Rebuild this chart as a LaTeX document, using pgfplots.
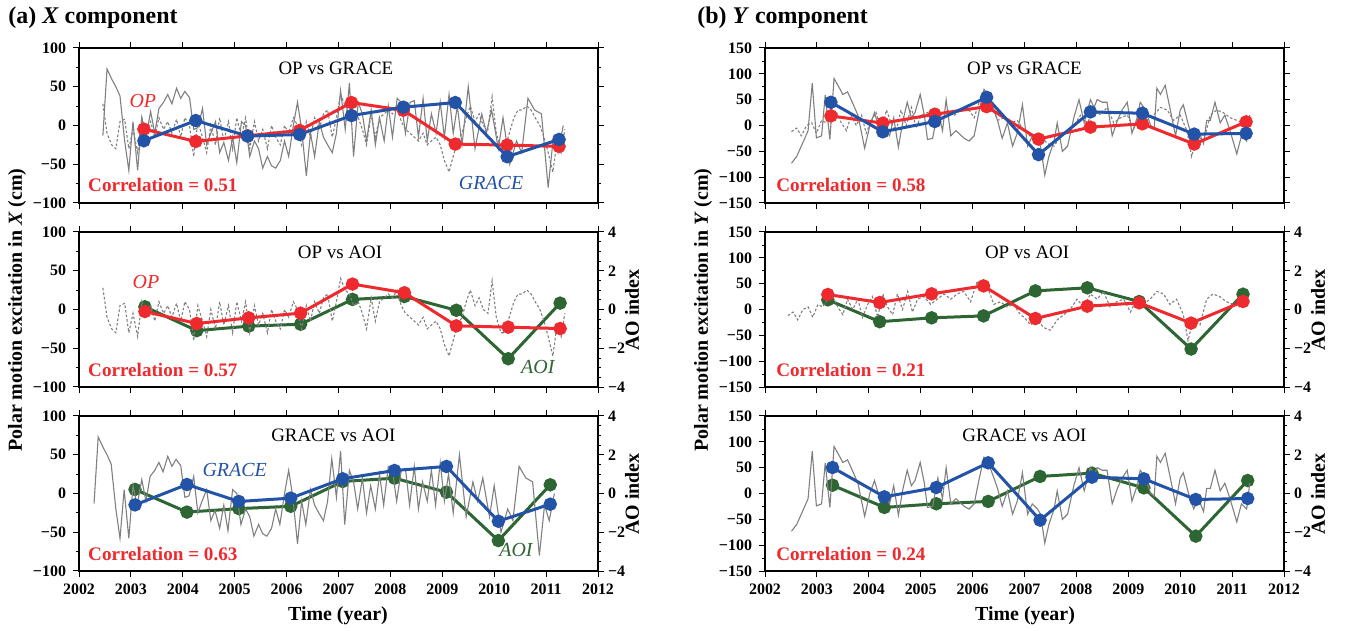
\documentclass[border=0pt]{standalone}
\usepackage{fontspec}
\setmainfont{Liberation Serif}
\usepackage{pgfplots}
\usepackage{pgfplotstable}
\pgfplotsset{compat=1.18}
\definecolor{cred}{HTML}{EE2A2E}
\definecolor{cblue}{HTML}{2353A6}
\definecolor{cgreen}{HTML}{2D6633}
\definecolor{cgray}{HTML}{808080}

% ---------- annual series ----------
\pgfplotstableread{
t op grace
2003.25 -4.7 -19.7
2004.25 -20.6 6.4
2005.25 -13.3 -13.7
2006.25 -6.4 -11.6
2007.25 29.6 12.8
2008.25 19.7 23.6
2009.25 -24.0 29.6
2010.25 -25.3 -40.3
2011.25 -27.0 -18.0
}\XtopA
\pgfplotstableread{
t op ao
2003.27 -2.6 0.14
2004.27 -18.1 -1.09
2005.27 -10.8 -0.86
2006.27 -4.7 -0.76
2007.27 32.8 0.52
2008.27 21.6 0.67
2009.27 -21.1 -0.04
2010.27 -22.8 -2.54
2011.27 -24.6 0.33
}\XmidA
\pgfplotstableread{
t grace ao
2003.08 -14.7 0.21
2004.08 11.6 -0.96
2005.08 -10.3 -0.78
2006.08 -6.0 -0.66
2007.08 19.0 0.62
2008.08 29.7 0.79
2009.08 34.9 0.07
2010.08 -35.8 -2.43
2011.08 -13.8 0.45
}\XbotA
\pgfplotstableread{
t op grace
2003.27 18.6 44.9
2004.27 4.5 -12.2
2005.27 21.8 7.7
2006.27 36.5 54.5
2007.27 -26.3 -56.4
2008.27 -3.2 26.3
2009.27 3.2 23.7
2010.27 -35.9 -16.7
2011.27 7.1 -15.4
}\YtopA
\pgfplotstableread{
t op ao
2003.21 29.0 0.50
2004.21 13.5 -0.63
2005.21 30.3 -0.43
2006.21 45.7 -0.33
2007.21 -17.4 0.96
2008.21 6.4 1.12
2009.21 12.9 0.41
2010.21 -26.4 -2.04
2011.21 15.5 0.79
}\YmidA
\pgfplotstableread{
t grace ao
2003.30 50.3 0.43
2004.30 -6.5 -0.72
2005.30 11.6 -0.53
2006.30 59.4 -0.41
2007.30 -51.6 0.88
2008.30 31.6 1.05
2009.30 28.4 0.29
2010.30 -11.6 -2.20
2011.30 -9.7 0.67
}\YbotA

% ---------- monthly series ----------
\pgfplotstableread{
t v
2002.46 -13
2002.54 73
2002.63 60
2002.71 50
2002.79 38
2002.88 -20
2002.96 -58
2003.04 5
2003.13 -58
2003.21 10
2003.29 -15
2003.38 18
2003.46 -10
2003.54 22
2003.63 30
2003.71 40
2003.79 28
2003.88 48
2003.96 35
2004.04 44
2004.13 36
2004.21 -5
2004.29 -3
2004.38 22
2004.46 -25
2004.54 -10
2004.63 5
2004.71 -35
2004.79 -22
2004.88 -45
2004.96 -15
2005.04 -48
2005.13 5
2005.21 0
2005.29 -40
2005.38 -20
2005.46 -30
2005.54 -55
2005.63 -40
2005.71 -52
2005.79 -55
2005.88 -45
2005.96 -20
2006.04 -40
2006.13 0
2006.21 30
2006.29 -5
2006.38 -65
2006.46 -10
2006.54 -40
2006.63 5
2006.71 -15
2006.79 -25
2006.88 -35
2006.96 -10
2007.04 45
2007.13 -5
2007.21 55
2007.29 -40
2007.38 30
2007.46 15
2007.54 -20
2007.63 20
2007.71 -25
2007.79 10
2007.88 -20
2007.96 25
2008.04 -15
2008.13 35
2008.21 30
2008.29 -10
2008.38 30
2008.46 32
2008.54 -15
2008.63 35
2008.71 -20
2008.79 15
2008.88 -10
2008.96 30
2009.04 -15
2009.13 40
2009.21 -10
2009.29 25
2009.38 -25
2009.50 50
2009.63 -30
2009.76 15
2009.85 -10
2009.95 20
2010.08 -30
2010.17 10
2010.30 -50
2010.43 -20
2010.53 -35
2010.65 35
2010.78 20
2010.91 15
2011.04 -80
2011.14 -15
2011.23 -35
2011.33 0
}\XGm
\pgfplotstableread{
t v
2002.46 28
2002.54 -10
2002.63 -25
2002.71 -30
2002.79 5
2002.88 8
2002.96 -30
2003.04 -5
2003.13 -35
2003.21 10
2003.29 -10
2003.38 5
2003.46 -15
2003.54 10
2003.63 -5
2003.71 5
2003.79 -10
2003.88 8
2003.96 -15
2004.04 10
2004.13 0
2004.21 -40
2004.29 5
2004.38 -15
2004.46 -35
2004.54 0
2004.63 -25
2004.71 10
2004.79 -20
2004.88 5
2004.96 -30
2005.04 10
2005.13 -15
2005.21 10
2005.29 -30
2005.38 5
2005.46 -20
2005.54 -5
2005.63 -30
2005.71 0
2005.79 -15
2005.88 -25
2005.96 0
2006.04 -10
2006.13 10
2006.21 0
2006.29 -25
2006.38 5
2006.46 -15
2006.54 10
2006.63 -5
2006.71 15
2006.79 20
2006.88 -15
2006.96 10
2007.04 40
2007.13 25
2007.21 20
2007.29 5
2007.38 10
2007.46 -5
2007.54 -25
2007.63 15
2007.71 -15
2007.79 10
2007.88 15
2007.96 20
2008.04 15
2008.13 25
2008.21 5
2008.29 -5
2008.38 -10
2008.46 -15
2008.54 -20
2008.63 -10
2008.71 -25
2008.79 -20
2008.88 -15
2008.96 -25
2009.04 -45
2009.13 -60
2009.21 -40
2009.29 -20
2009.38 -10
2009.46 10
2009.54 25
2009.63 5
2009.71 15
2009.79 0
2009.88 -5
2009.96 37
2010.04 -10
2010.13 -30
2010.21 -30
2010.29 -10
2010.38 10
2010.46 20
2010.54 20
2010.63 25
2010.71 20
2010.79 10
2010.88 0
2010.96 -15
2011.04 -35
2011.13 -60
2011.21 -20
2011.29 -35
2011.36 -5
}\XOm
\pgfplotstableread{
t v
2002.51 -73
2002.61 -60
2002.77 -24
2002.83 -10
2002.91 82
2002.99 -24
2003.09 -20
2003.16 59
2003.25 -27
2003.33 91
2003.42 75
2003.50 60
2003.59 65
2003.66 50
2003.79 20
2003.92 -44
2004.02 0
2004.11 25
2004.21 -10
2004.30 -5
2004.40 -20
2004.48 15
2004.57 -42
2004.66 10
2004.74 45
2004.82 15
2004.89 25
2004.99 60
2005.07 20
2005.13 -27
2005.23 -25
2005.33 30
2005.42 -10
2005.49 50
2005.58 -20
2005.68 -10
2005.84 -25
2005.93 -30
2006.03 -20
2006.13 30
2006.22 70
2006.32 55
2006.41 30
2006.48 10
2006.57 -25
2006.67 5
2006.77 -40
2006.86 -15
2006.96 40
2007.06 -40
2007.15 -20
2007.25 -30
2007.31 -40
2007.39 -96
2007.47 -60
2007.57 -30
2007.63 5
2007.73 -50
2007.83 -40
2007.95 15
2008.05 50
2008.15 5
2008.27 50
2008.34 35
2008.40 50
2008.50 45
2008.59 45
2008.69 -20
2008.79 10
2008.88 30
2008.98 45
2009.07 -15
2009.17 15
2009.23 45
2009.33 30
2009.43 0
2009.50 -5
2009.55 72
2009.62 60
2009.71 78
2009.81 30
2009.91 -20
2010.00 30
2010.06 40
2010.16 0
2010.26 -30
2010.35 -10
2010.45 -35
2010.51 10
2010.58 10
2010.67 45
2010.77 5
2010.86 20
2010.96 -10
2011.09 -55
2011.18 -20
2011.28 -30
2011.34 20
}\YGm
\pgfplotstableread{
t v
2002.51 -12
2002.61 -5
2002.70 -20
2002.80 0
2002.90 5
2002.99 -15
2003.09 10
2003.18 5
2003.28 20
2003.38 25
2003.47 5
2003.57 -10
2003.66 20
2003.76 0
2003.86 20
2003.95 -15
2004.05 10
2004.14 25
2004.24 -15
2004.34 30
2004.43 5
2004.53 -10
2004.62 30
2004.72 0
2004.82 35
2004.91 -5
2005.01 20
2005.13 25
2005.26 10
2005.39 20
2005.52 30
2005.65 20
2005.77 30
2005.90 35
2006.03 15
2006.16 55
2006.25 35
2006.35 45
2006.48 10
2006.61 15
2006.73 5
2006.86 10
2006.99 -10
2007.06 -15
2007.19 -30
2007.31 -20
2007.44 -35
2007.57 -40
2007.70 -20
2007.83 -10
2007.95 0
2008.08 20
2008.21 5
2008.34 30
2008.47 20
2008.59 35
2008.72 5
2008.85 15
2008.98 20
2009.11 -5
2009.23 20
2009.36 10
2009.49 20
2009.62 35
2009.75 30
2009.87 10
2010.00 20
2010.13 -10
2010.22 -60
2010.32 -20
2010.45 -30
2010.58 20
2010.70 30
2010.83 25
2010.96 15
2011.09 10
2011.21 5
2011.34 15
}\YOm

\pgfplotsset{
  panel/.style={scale only axis, width=259.5bp, height=77.5bp, anchor=north west,
    xmin=2002, xmax=2012, xtick={2002,2003,...,2012}, minor x tick num=5,
    xticklabels={}, tick align=outside, major tick length=3bp, minor tick length=1.6bp,
    tick style={black, line width=0.5bp}, minor tick style={black, line width=0.4bp},
    axis line style={line width=0.6bp},
    tick label style={font=\fontsize{8}{9}\selectfont\bfseries},
    minor y tick num=1, clip=true},
  leftp/.style={panel, ymin=-100, ymax=100, ytick={-100,-50,0,50,100},
    yticklabels={−100,−50,0,50,100}},
  rightp/.style={panel, ymin=-150, ymax=150, ytick={-150,-100,-50,0,50,100,150},
    yticklabels={−150,−100,−50,0,50,100,150}},
  aoaxis/.style={scale only axis, width=259.5bp, height=77.5bp, anchor=north west,
    xmin=2002, xmax=2012, ymin=-4, ymax=4, axis x line=none, axis y line*=right,
    ytick={-4,-2,0,2,4}, yticklabels={−4,−2,0,2,4}, minor y tick num=3,
    tick align=outside, major tick length=3bp, minor tick length=1.6bp,
    tick style={black, line width=0.5bp}, minor tick style={black, line width=0.4bp},
    axis line style={line width=0.6bp},
    yticklabel style={font=\fontsize{8}{9}\selectfont\bfseries, xshift=-1.5bp}},
  bottomx/.style={xticklabels={2002,2003,2004,2005,2006,2007,2008,2009,2010,2011,2012}},
  annual/.style={line width=1.5bp, mark=*, mark size=2.6bp, mark options={solid}},
  gsolid/.style={cgray, line width=0.55bp, no marks},
  gdot/.style={cgray, line width=0.55bp, dash pattern=on 1.3bp off 1bp, no marks},
}
\newcommand{\ptitle}[2]{\node[font=\fontsize{9.5}{10}\selectfont] at (rel axis cs:#1) {#2};}
\newcommand{\corr}[2]{\node[anchor=west, inner sep=0pt, text=cred, font=\fontsize{9.6}{10}\selectfont\bfseries] at (rel axis cs:#1) {Correlation = #2};}
\newcommand{\slab}[3]{\node[text=#2, font=\fontsize{10}{11}\selectfont\itshape] at (rel axis cs:#1) {#3};}

\begin{document}
\begin{tikzpicture}
\path[use as bounding box] (0,0) rectangle (677bp,315.5bp);

% ================= LEFT COLUMN =================
\begin{axis}[leftp, at={(39.5bp,291.5bp)}]
  \addplot[gsolid] table[x=t,y=v] {\XGm};
  \addplot[gdot] table[x=t,y=v] {\XOm};
  \addplot[annual, cred] table[x=t,y=op] {\XtopA};
  \addplot[annual, cblue] table[x=t,y=grace] {\XtopA};
  \ptitle{0.495,0.87}{OP vs GRACE}
  \corr{0.017,0.116}{0.51}
  \slab{0.123,0.66}{cred}{OP}
  \slab{0.794,0.13}{cblue}{GRACE}
\end{axis}

\begin{axis}[aoaxis, at={(39.5bp,199.5bp)}]
  \addplot[annual, cgreen] table[x=t,y=ao] {\XmidA};
\end{axis}
\begin{axis}[leftp, at={(39.5bp,199.5bp)}, ytick pos=left]
  \addplot[gdot] table[x=t,y=v] {\XOm};
  \addplot[annual, cred] table[x=t,y=op] {\XmidA};
  \ptitle{0.503,0.87}{OP vs AOI}
  \corr{0.017,0.11}{0.57}
  \slab{0.129,0.68}{cred}{OP}
  \slab{0.884,0.13}{cgreen}{AOI}
\end{axis}

\begin{axis}[aoaxis, at={(39.5bp,107.5bp)}]
  \addplot[annual, cgreen] table[x=t,y=ao] {\XbotA};
\end{axis}
\begin{axis}[leftp, bottomx, at={(39.5bp,107.5bp)}, ytick pos=left]
  \addplot[gsolid] table[x expr=\thisrow{t}-0.17,y=v] {\XGm};
  \addplot[annual, cblue] table[x=t,y=grace] {\XbotA};
  \ptitle{0.49,0.877}{GRACE vs AOI}
  \corr{0.017,0.11}{0.63}
  \slab{0.30,0.65}{cblue}{GRACE}
  \slab{0.842,0.135}{cgreen}{AOI}
\end{axis}

% ================= RIGHT COLUMN =================
\begin{axis}[rightp, at={(382.5bp,291.5bp)}]
  \addplot[gsolid] table[x=t,y=v] {\YGm};
  \addplot[gdot] table[x=t,y=v] {\YOm};
  \addplot[annual, cred] table[x=t,y=op] {\YtopA};
  \addplot[annual, cblue] table[x=t,y=grace] {\YtopA};
  \ptitle{0.5,0.87}{OP vs GRACE}
  \corr{0.021,0.116}{0.58}
\end{axis}

\begin{axis}[aoaxis, at={(382.5bp,199.5bp)}]
  \addplot[annual, cgreen] table[x=t,y=ao] {\YmidA};
\end{axis}
\begin{axis}[rightp, at={(382.5bp,199.5bp)}, ytick pos=left]
  \addplot[gdot] table[x expr=\thisrow{t}-0.07,y=v] {\YOm};
  \addplot[annual, cred] table[x=t,y=op] {\YmidA};
  \ptitle{0.505,0.87}{OP vs AOI}
  \corr{0.021,0.11}{0.21}
\end{axis}

\begin{axis}[aoaxis, at={(382.5bp,107.5bp)}]
  \addplot[annual, cgreen] table[x=t,y=ao] {\YbotA};
\end{axis}
\begin{axis}[rightp, bottomx, at={(382.5bp,107.5bp)}, ytick pos=left]
  \addplot[gsolid] table[x=t,y=v] {\YGm};
  \addplot[annual, cblue] table[x=t,y=grace] {\YbotA};
  \ptitle{0.5,0.877}{GRACE vs AOI}
  \corr{0.021,0.11}{0.24}
\end{axis}

% ================= labels =================
\node[anchor=west, inner sep=0pt, font=\fontsize{12}{13}\selectfont\bfseries] at (4bp,306.5bp) {(a) \textit{X} component};
\node[anchor=west, inner sep=0pt, font=\fontsize{12}{13}\selectfont\bfseries] at (348.5bp,306.5bp) {(b) \textit{Y} component};
\node[rotate=90, font=\fontsize{10}{11}\selectfont\bfseries] at (8.5bp,160.5bp) {Polar motion excitation in \textit{X} (cm)};
\node[rotate=90, font=\fontsize{10}{11}\selectfont\bfseries] at (351.5bp,160.5bp) {Polar motion excitation in \textit{Y} (cm)};
\node[rotate=90, font=\fontsize{10}{11}\selectfont\bfseries] at (316bp,160.5bp) {AO index};
\node[rotate=90, font=\fontsize{10}{11}\selectfont\bfseries] at (316bp,68.5bp) {AO index};
\node[rotate=90, font=\fontsize{10}{11}\selectfont\bfseries] at (659bp,160.5bp) {AO index};
\node[rotate=90, font=\fontsize{10}{11}\selectfont\bfseries] at (659bp,68.5bp) {AO index};
\node[font=\fontsize{10}{11}\selectfont\bfseries] at (169bp,7.5bp) {Time (year)};
\node[font=\fontsize{10}{11}\selectfont\bfseries] at (512.5bp,7.5bp) {Time (year)};
\end{tikzpicture}
\end{document}
